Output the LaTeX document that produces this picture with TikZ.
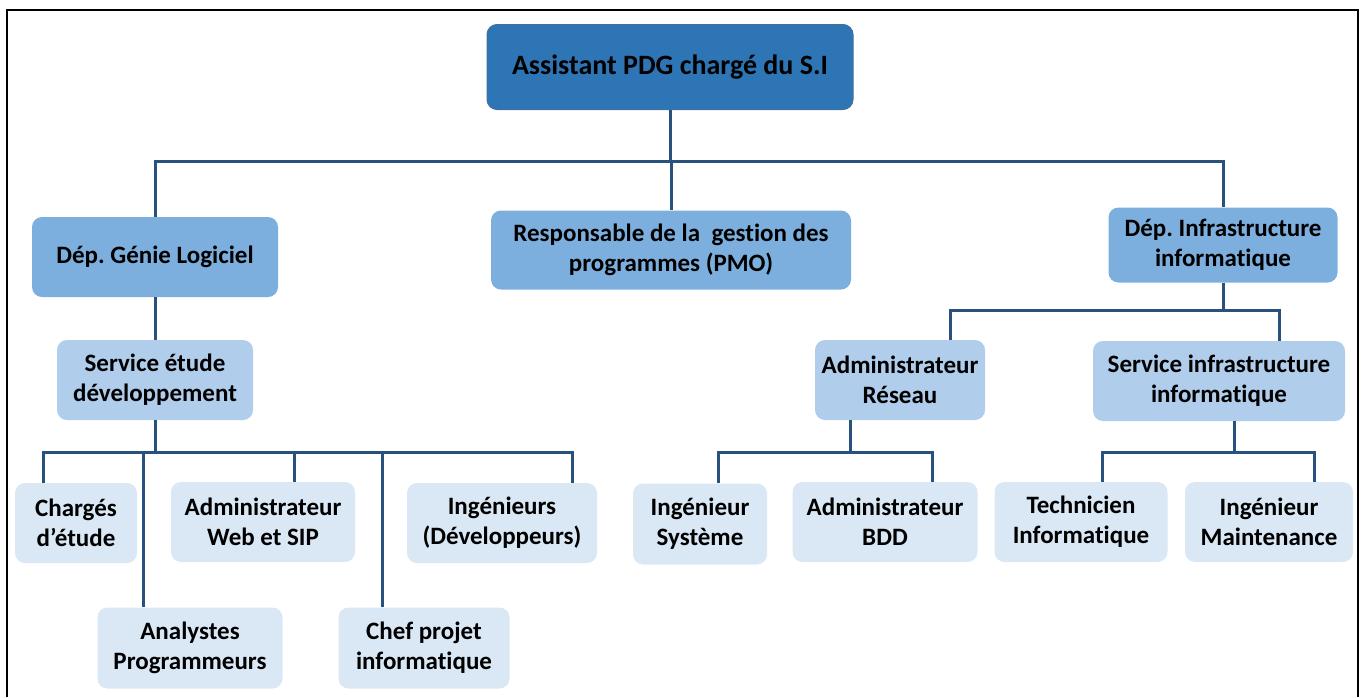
\documentclass[tikz,border=0pt]{standalone}
\usepackage{fontspec}
\setmainfont{Carlito}[Ligatures=NoCommon]
\usetikzlibrary{calc}

\definecolor{chef}{RGB}{46,117,182}
\definecolor{chefline}{RGB}{65,113,156}
\definecolor{dep}{RGB}{125,175,222}
\definecolor{serv}{RGB}{176,205,235}
\definecolor{post}{RGB}{218,232,245}
\definecolor{linkc}{RGB}{40,82,125}

\begin{document}
\frenchspacing
\begin{tikzpicture}[x=1pt, y=-1pt,
font=\bfseries\fontsize{25}{30}\selectfont,
box/.style={rounded corners=10pt, align=center, inner sep=0pt, anchor=center},
chefbox/.style={box, fill=chef, draw=chefline, line width=1pt, font=\bfseries\fontsize{28}{32}\selectfont},
depbox/.style={box, fill=dep},
servbox/.style={box, fill=serv},
postbox/.style={box, fill=post},
link/.style={draw=linkc, line width=3pt},
]
\useasboundingbox (0,0) rectangle (1363,697);
\draw[line width=1.5pt] (7,697) -- (7,10) -- (1358,10) -- (1358,697);

% top
\node[chefbox, minimum width=366pt, minimum height=85pt] (chef) at (670,67) {Assistant PDG chargé du S.I};

% departements
\node[depbox, minimum width=246pt, minimum height=80pt] (gl) at (155,257) {Dép. Génie Logiciel};
\node[depbox, minimum width=360pt, minimum height=79pt] (pmo) at (671,250) {Responsable de la\ \ gestion des\\programmes (PMO)};
\node[depbox, minimum width=229pt, minimum height=75pt] (di) at (1223,245) {Dép. Infrastructure\\informatique};

% services
\node[servbox, minimum width=196pt, minimum height=80pt] (sed) at (155,380) {Service étude\\développement};
\node[servbox, minimum width=170pt, minimum height=80pt] (ar) at (900,380) {Administrateur\\Réseau};
\node[servbox, minimum width=252pt, minimum height=80pt] (sii) at (1219,381) {Service infrastructure\\informatique};

% postes
\node[postbox, minimum width=122pt, minimum height=80pt] (ce) at (76,523) {Chargés\\d’étude};
\node[postbox, minimum width=184pt, minimum height=80pt] (aw) at (263,522) {Administrateur\\Web et SIP};
\node[postbox, minimum width=190pt, minimum height=80pt] (id) at (502,523) {Ingénieurs\\(Développeurs)};
\node[postbox, minimum width=185pt, minimum height=81pt] (ap) at (190,648) {Analystes\\Programmeurs};
\node[postbox, minimum width=171pt, minimum height=81pt] (cp) at (424,648) {Chef projet\\informatique};
\node[postbox, minimum width=134pt, minimum height=81pt] (is) at (700,524) {Ingénieur\\Système};
\node[postbox, minimum width=185pt, minimum height=80pt] (bdd) at (885,522) {Administrateur\\BDD};
\node[postbox, minimum width=173pt, minimum height=80pt] (ti) at (1081,522) {Technicien\\Informatique};
\node[postbox, minimum width=168pt, minimum height=80pt] (im) at (1269,522) {Ingénieur\\Maintenance};

% liens
\coordinate (bus1) at (670,161);
\coordinate (bus2) at (157,452);
\coordinate (bus3) at (1226,310);
\coordinate (bus4) at (850,452);
\coordinate (bus5) at (1234,452);

\draw[link] (chef.south) -- (bus1);
\draw[link] (gl.north) |- (bus1) -| (di.north);
\draw[link] (pmo.north) -- (pmo.north |- bus1);

\draw[link] (gl) -- (sed);
\draw[link] (sed.south) -- (sed.south |- bus2);
\draw[link] ([xshift=-33pt]ce.north) |- (bus2) -| ([xshift=70pt]id.north);
\draw[link] ([xshift=-47pt]ap.north) -- ([xshift=-47pt]ap.north |- bus2);
\draw[link] ([xshift=31pt]aw.north) -- ([xshift=31pt]aw.north |- bus2);
\draw[link] ([xshift=-42pt]cp.north) -- ([xshift=-42pt]cp.north |- bus2);

\draw[link] (di.south) -- (di.south |- bus3);
\draw[link] ([xshift=50pt]ar.north) |- (bus3) -| ([xshift=60pt]sii.north);

\draw[link] ([xshift=-50pt]ar.south) -- ([xshift=-50pt]ar.south |- bus4);
\draw[link] ([xshift=18pt]is.north) |- (bus4) -| ([xshift=47pt]bdd.north);

\draw[link] ([xshift=15pt]sii.south) -- ([xshift=15pt]sii.south |- bus5);
\draw[link] ([xshift=21pt]ti.north) |- (bus5) -| ([xshift=45pt]im.north);
\end{tikzpicture}
\end{document}
